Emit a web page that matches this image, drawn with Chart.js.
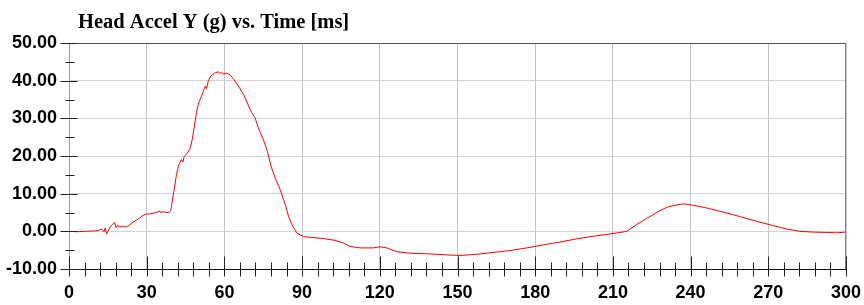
<!DOCTYPE html>
<html>
<head>
<meta charset="utf-8">
<script src="https://cdn.jsdelivr.net/npm/chart.js@4.4.0/dist/chart.umd.min.js"></script>
<style>
  html, body { margin: 0; padding: 0; background: #fff; }
  canvas { display: block; }
</style>
</head>
<body>
<canvas id="myChart" width="864" height="305"></canvas>
<script>
// time [ms] and head accel Y [g]
const times = [0, 3, 6, 9.5, 11.3, 12.6, 13.5, 14, 14.5, 15.5, 16, 17.6, 18.2, 18.8, 19.5, 20.8, 22, 23.3, 24.6, 25.9,
  27.2, 28.5, 29.8, 31.1, 32.4, 33.7, 35, 35.6, 36.3, 37.6, 38.7, 39.3, 40.4, 41.5, 42.4, 43.4, 44, 44.4, 45.3, 46.6,
  47.6, 48.6, 49.2, 50.1, 51.2, 52.1, 52.7, 53.1, 53.8, 54.8, 56.3, 57.6, 58.2, 58.9, 59.5, 60.8, 62.2, 63.5, 65.4, 67.3,
  68.2, 70.5, 71.8, 73.1, 75, 76.4, 78, 79.6, 81.5, 83.5, 84.8, 86.1, 88, 90.6, 93.5, 98, 102.7, 105.9, 108.5, 112.4,
  117.5, 120.1, 122.7, 126.5, 131.7, 139.4, 147.1, 151, 157.4, 163.8, 170.3, 176.7, 183.1, 188.3, 196, 202.4, 208.9, 212.7, 215.3, 219.2,
  223, 226.9, 230.8, 234.6, 237.2, 241, 246.2, 251.4, 256.5, 261.7, 266.8, 272, 277.1, 282.2, 287.4, 292.5, 296.4, 300];
const accel = [0, -0.1, 0, 0.1, 0.2, 0.6, -0.1, 0.9, -0.7, 0.6, 1.3, 2.4, 1.0, 1.7, 1.1, 1.4, 1.1, 1.6, 2.4, 2.9,
  3.5, 4.2, 4.6, 4.6, 4.8, 5.0, 5.4, 4.9, 5.2, 5.0, 5.0, 5.6, 10.2, 15.1, 17.7, 19.1, 18.4, 19.8, 20.4, 21.7,
  24.4, 28.8, 31.5, 34.2, 35.9, 37.7, 38.6, 37.9, 40, 41.3, 42, 42.4, 41.9, 42.2, 41.8, 42, 41.5, 40.4, 38.6, 36.4,
  35.1, 31.5, 30.2, 27.5, 24.4, 21.7, 17.3, 14.2, 11.1, 7.1, 3.9, 1.7, -0.5, -1.4, -1.6, -1.9, -2.4, -3.1, -4.0, -4.4,
  -4.4, -4.1, -4.4, -5.4, -5.8, -6.0, -6.3, -6.4, -6.1, -5.6, -5.1, -4.4, -3.6, -3.0, -2.0, -1.3, -0.7, -0.3, 0, 1.8,
  3.4, 5.0, 6.4, 7.0, 7.3, 6.9, 6.2, 5.3, 4.4, 3.4, 2.4, 1.5, 0.6, 0, -0.2, -0.3, -0.4, -0.2];

const titleText = 'Head Accel Y (g) vs. Time [ms]';
const xMin = 0, xMax = 300, xStep = 30, xMinor = 6;
const yMin = -10, yMax = 50, yStep = 10, yMinor = 5;

const points = times.map((t, i) => ({ x: t, y: accel[i] }));

// title, frame and the tick marks that cross the axes
const decor = {
  id: 'decor',
  afterDraw(chart) {
    const c = chart.ctx;
    const xs = chart.scales.x, ys = chart.scales.y;
    const area = chart.chartArea;
    c.save();
    c.lineWidth = 1;

    // top frame
    c.strokeStyle = '#555';
    c.beginPath();
    c.moveTo(area.left, Math.round(area.top) + 0.5);
    c.lineTo(area.right, Math.round(area.top) + 0.5);
    c.stroke();

    // left axis
    c.strokeStyle = '#999';
    c.beginPath();
    c.moveTo(Math.round(area.left) + 0.5, area.top);
    c.lineTo(Math.round(area.left) + 0.5, area.bottom);
    c.stroke();

    // right edge
    c.strokeStyle = '#888';
    c.beginPath();
    c.moveTo(Math.round(area.right) - 0.5, area.top);
    c.lineTo(Math.round(area.right) - 0.5, area.bottom);
    c.stroke();

    // bottom axis
    c.strokeStyle = '#111';
    const yb = Math.round(ys.getPixelForValue(yMin)) + 0.5;
    c.beginPath();
    c.moveTo(area.left - 7, yb);
    c.lineTo(area.right, yb);
    c.stroke();

    // y ticks
    const xl = Math.round(area.left) + 0.5;
    for (let v = yMin; v <= yMax; v += yMinor) {
      const py = Math.round(ys.getPixelForValue(v)) + 0.5;
      const major = v % yStep === 0;
      c.strokeStyle = '#222';
      c.beginPath();
      c.moveTo(xl - (major ? 9 : 4), py);
      c.lineTo(xl + (major ? 8 : 5), py);
      c.stroke();
    }

    // x ticks
    for (let t = xMin; t <= xMax; t += xMinor) {
      const px = Math.round(xs.getPixelForValue(t)) + 0.5;
      const major = t % xStep === 0;
      c.strokeStyle = '#222';
      c.beginPath();
      c.moveTo(px, yb - (major ? 13 : 7));
      c.lineTo(px, yb + 7);
      c.stroke();
    }

    // title
    c.fillStyle = '#000';
    c.font = 'bold 20.5px "Liberation Serif"';
    c.textBaseline = 'alphabetic';
    c.textAlign = 'left';
    c.fillText(titleText, 78, 28);
    c.restore();
  }
};

const ctx = document.getElementById('myChart').getContext('2d');
const myChart = new Chart(ctx, {
  type: 'line',
  data: {
    datasets: [{
      data: points,
      borderColor: '#ff0000',
      borderWidth: 1,
      pointRadius: 0,
      tension: 0,
      fill: false
    }]
  },
  options: {
    responsive: false,
    animation: false,
    layout: { padding: { top: 43, right: 18, left: 0, bottom: 0 } },
    plugins: {
      legend: { display: false },
      title: { display: false },
      tooltip: { enabled: false }
    },
    scales: {
      x: {
        type: 'linear',
        min: xMin,
        max: xMax,
        afterFit(scale) {
          scale.height = 36;
          scale.paddingLeft = 0;
          scale.paddingRight = 0;
        },
        ticks: {
          stepSize: xStep,
          color: '#000',
          padding: 13,
          maxRotation: 0,
          font: { family: '"Liberation Sans", Arial', size: 18, weight: 'bold' }
        },
        grid: { color: '#c4c4c4', drawTicks: false },
        border: { display: false }
      },
      y: {
        min: yMin,
        max: yMax,
        afterFit(scale) { scale.width = 69; },
        ticks: {
          stepSize: yStep,
          color: '#000',
          padding: 12,
          callback: v => v.toFixed(2),
          font: { family: '"Liberation Sans", Arial', size: 18, weight: 'bold' }
        },
        grid: { color: '#d4d4d4', drawTicks: false },
        border: { display: false }
      }
    }
  },
  plugins: [decor]
});
</script>
</body>
</html>
